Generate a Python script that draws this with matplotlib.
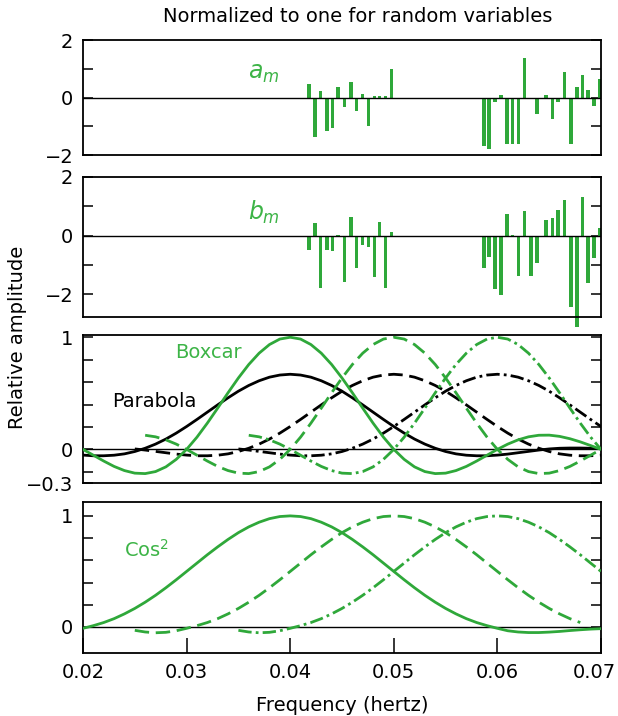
import numpy as np
import matplotlib.pyplot as plt
from matplotlib.transforms import ScaledTranslation

GREEN = '#2fa83a'
GREEN_TXT = '#3db447'

# fourier coefficients, low band and high band (hertz / amplitude)
freq_lo = [0.04181, 0.04239, 0.04292, 0.04355, 0.04408, 0.04461, 0.04524, 0.04587,
           0.04640, 0.04698, 0.04754, 0.04812, 0.04864, 0.04922, 0.04980]
freq_hi = [0.05871, 0.05919, 0.05977, 0.06035, 0.06093, 0.06146, 0.06204, 0.06262,
           0.06324, 0.06382, 0.06469, 0.06532, 0.06585, 0.06648, 0.06710, 0.06768,
           0.06821, 0.06874, 0.06932, 0.06984]
a_lo = [0.46, -1.38, 0.23, -1.15, -1.05, 0.38, -0.34, 0.55, -0.46, 0.12, -0.98,
        0.05, 0.05, 0.05, 0.98]
a_hi = [-1.67, -1.78, -0.17, 0.08, -1.61, -1.63, -1.63, 1.36, 0.0, -0.57, 0.08,
        -0.75, -0.17, 0.90, -1.61, 0.35, 0.80, 0.25, -0.29, 0.63]
b_lo = [-0.50, 0.44, -1.78, -0.50, -0.53, 0.03, -1.60, 0.63, -1.12, -0.32, -0.40,
        -1.42, 0.47, -1.78, 0.12]
b_hi = [-1.10, -0.74, -1.84, -2.02, 0.72, 0.03, -1.38, 0.83, -1.38, -0.95, 0.54,
        0.61, 0.88, 1.20, -2.44, -3.12, 1.32, -1.61, -0.77, 0.25]

offset_hz = np.arange(-25, 31) / 1000.0
boxcar = [0.127, 0.126, 0.112, 0.085, 0.047, 0.000, -0.052, -0.104, -0.152, -0.189,
          -0.212, -0.216, -0.198, -0.156, -0.089, 0.000, 0.109, 0.234, 0.368, 0.505,
          0.637, 0.757, 0.858, 0.935, 0.984, 1.000, 0.984, 0.935, 0.858, 0.757,
          0.637, 0.505, 0.368, 0.234, 0.109, 0.000, -0.089, -0.156, -0.198, -0.216,
          -0.212, -0.189, -0.152, -0.104, -0.052, 0.000, 0.047, 0.085, 0.112, 0.126,
          0.127, 0.116, 0.095, 0.067, 0.034, 0.000]
parabola = [0.004, -0.006, -0.018, -0.030, -0.042, -0.051, -0.057, -0.057, -0.052, -0.040,
            -0.019, 0.010, 0.047, 0.092, 0.145, 0.204, 0.267, 0.332, 0.397, 0.460,
            0.519, 0.570, 0.612, 0.644, 0.663, 0.670, 0.663, 0.644, 0.612, 0.570,
            0.519, 0.460, 0.397, 0.332, 0.267, 0.204, 0.145, 0.092, 0.047, 0.010,
            -0.019, -0.040, -0.052, -0.057, -0.057, -0.051, -0.042, -0.030, -0.018, -0.006,
            0.004, 0.010, 0.012, 0.012, 0.010, 0.006]
cos2 = [-0.030, -0.045, -0.052, -0.048, -0.034, -0.012, 0.012, 0.040, 0.075, 0.118,
        0.167, 0.223, 0.285, 0.353, 0.425, 0.500, 0.575, 0.650, 0.721, 0.788,
        0.849, 0.901, 0.943, 0.975, 0.994, 1.000, 0.994, 0.975, 0.943, 0.901,
        0.849, 0.788, 0.721, 0.650, 0.575, 0.500, 0.425, 0.353, 0.285, 0.223,
        0.167, 0.118, 0.075, 0.040, 0.012, -0.012, -0.034, -0.045, -0.050, -0.050,
        -0.046, -0.040, -0.032, -0.025, -0.019, -0.015]

centres = [0.04, 0.05, 0.06]
boxcar_start = [-0.020, -0.024, -0.024]
parabola_start = [-0.020, -0.025, -0.025]
cos2_start = [-0.020, -0.025, -0.025]
cos2_end = [0.070, 0.068, 0.070]

styles = [dict(linestyle='-'),
          dict(linestyle=(0, (5.2, 2.4))),
          dict(linestyle=(0, (4.8, 1.5, 1.0, 1.5)))]


def style_axes(ax, ylim, yticks, ylabels):
    ax.set_xlim(0.02, 0.07)
    ax.set_ylim(*ylim)
    ax.set_facecolor('none')
    ax.axhline(0, color='black', lw=1.0, zorder=3)
    for s in ax.spines.values():
        s.set_linewidth(1.3)
    ax.set_yticks(yticks)
    ax.set_yticklabels(ylabels)
    ax.tick_params(axis='y', direction='in', left=True, right=True, length=7,
                   width=1.1, labelsize=14, pad=7)
    ax.tick_params(axis='x', direction='in', bottom=False, top=False, labelbottom=False)


def plot_windows(ax, shape, starts, ends, colour):
    shape = np.array(shape)
    for c, st, en, ls in zip(centres, starts, ends, styles):
        f = c + offset_hz
        keep = (offset_hz >= st - 1e-9) & (f <= en + 1e-9)
        ax.plot(f[keep], shape[keep], color=colour, lw=2.0, zorder=4, **ls)


fig = plt.figure(figsize=(6.18, 7.16), dpi=100)
fig.patch.set_facecolor('white')
left, width = 0.1343, 0.8382
ax1 = fig.add_axes([left, 0.7835, width, 0.1606])
ax2 = fig.add_axes([left, 0.5573, width, 0.1955])
ax3 = fig.add_axes([left, 0.3254, width, 0.2067])
ax4 = fig.add_axes([left, 0.0880, width, 0.2109])

# a_m
ax1.bar(freq_lo + freq_hi, a_lo + a_hi, width=0.00031, color=GREEN, lw=0, zorder=2, clip_on=False)
style_axes(ax1, (-2, 2), [-2, -1, 0, 1, 2], ['\u22122', '', '0', '', '2'])
ax1.text(0.0359, 0.86, r'$a_m$', color=GREEN_TXT, fontsize=17, ha='left', va='center')

# b_m
ax2.bar(freq_lo + freq_hi, b_lo + b_hi, width=0.00031, color=GREEN, lw=0, zorder=2, clip_on=False)
style_axes(ax2, (-2.78, 2.0), [-2, -1, 0, 1, 2], ['\u22122', '', '0', '', '2'])
ax2.text(0.0359, 0.78, r'$b_m$', color=GREEN_TXT, fontsize=17, ha='left', va='center')

# boxcar and parabola windows
plot_windows(ax3, parabola, parabola_start, [0.07] * 3, 'black')
plot_windows(ax3, boxcar, boxcar_start, [0.07] * 3, GREEN)
style_axes(ax3, (-0.3, 1.02), [-0.3, -0.2, 0, 0.2, 0.4, 0.6, 0.8, 1.0],
           ['\u22120.3', '', '0', '', '', '', '', '1'])
ax3.text(0.0321, 0.86, 'Boxcar', color=GREEN_TXT, fontsize=14, ha='center', va='center')
ax3.text(0.0269, 0.43, 'Parabola', color='black', fontsize=14, ha='center', va='center')

# cos^2 window
plot_windows(ax4, cos2, cos2_start, cos2_end, GREEN)
style_axes(ax4, (-0.234, 1.125), [0, 0.2, 0.4, 0.6, 0.8, 1.0], ['0', '', '', '', '', '1'])
ax4.set_xticks([0.02, 0.03, 0.04, 0.05, 0.06, 0.07])
ax4.set_xticklabels(['0.02', '0.03', '0.04', '0.05', '0.06', '0.07'])
ax4.tick_params(axis='x', direction='in', bottom=True, labelbottom=True, length=11,
                width=1.1, labelsize=14, pad=7)
last = ax4.get_xticklabels()[-1]
last.set_transform(last.get_transform() + ScaledTranslation(-7 / 100, 0, fig.dpi_scale_trans))
ax4.text(0.0261, 0.69, 'Cos$^2$', color=GREEN_TXT, fontsize=14, ha='center', va='center')

fig.text(0.578, 0.977, 'Normalized to one for random variables', fontsize=14,
         ha='center', va='center')
fig.text(0.553, 0.015, 'Frequency (hertz)', fontsize=14, ha='center', va='center')
fig.text(0.029, 0.529, 'Relative amplitude', fontsize=14, rotation=90,
         ha='center', va='center')

fig.savefig('out.png', dpi=100, facecolor='white')
